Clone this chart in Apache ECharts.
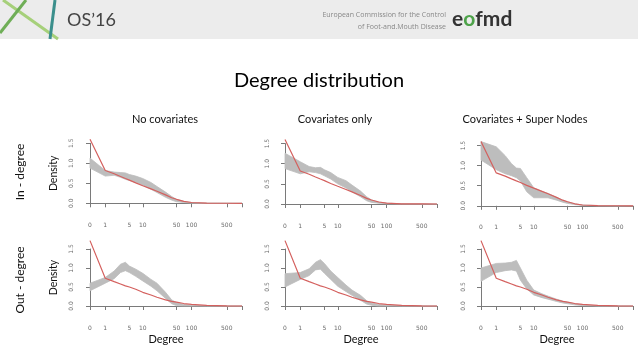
<!DOCTYPE html>
<html><head><meta charset="utf-8">
<script src="https://cdn.jsdelivr.net/npm/echarts@6/dist/echarts.min.js"></script>
<style>html,body{margin:0;padding:0;background:#fff}#c{width:638px;height:359px}</style>
</head><body><div id="c"></div>
<script>
// ---- data ----
const degrees = [0,1,2,3,4,5,7,10,15,20,30,40,50,70,100,200,500,1000];
const tickDegrees = [0,1,5,10,50,100,500,1000];
const labelDegrees = [0,1,5,10,50,100,500];
const colTitles = ['No covariates','Covariates only','Covariates + Super Nodes'];
const rowTitles = ['In - degree','Out - degree'];

const observedIn  = [1.60,0.82,0.74,0.67,0.62,0.58,0.51,0.44,0.36,0.30,0.21,0.14,0.10,0.05,0.02,0.005,0.001,0];
const observedOut = [1.72,0.73,0.64,0.58,0.53,0.50,0.44,0.36,0.29,0.23,0.16,0.12,0.10,0.065,0.045,0.015,0.003,0];

const inNoCovLow   = [0.88,0.68,0.70,0.65,0.60,0.57,0.52,0.45,0.35,0.27,0.15,0.08,0.04,0.02,0.005,0,0,0];
const inNoCovHigh  = [1.13,0.82,0.78,0.77,0.76,0.72,0.68,0.62,0.52,0.42,0.28,0.17,0.10,0.05,0.02,0.004,0.001,0];
const inCovLow     = [0.88,0.75,0.80,0.78,0.75,0.70,0.62,0.50,0.40,0.30,0.18,0.08,0.04,0.02,0.005,0,0,0];
const inCovHigh    = [1.26,1.05,0.93,0.90,0.91,0.85,0.78,0.66,0.58,0.47,0.32,0.18,0.10,0.05,0.02,0.004,0.001,0];
const inSuperLow   = [1.14,0.90,0.80,0.75,0.70,0.62,0.35,0.20,0.20,0.20,0.14,0.09,0.06,0.03,0.01,0.002,0,0];
const inSuperHigh  = [1.60,1.47,1.25,1.05,0.94,0.93,0.70,0.45,0.36,0.31,0.21,0.14,0.10,0.05,0.02,0.004,0.001,0];
const outNoCovLow  = [0.40,0.60,0.72,0.88,0.93,0.88,0.78,0.66,0.52,0.40,0.20,0.06,0.01,0,0,0,0,0];
const outNoCovHigh = [0.60,0.75,0.92,1.10,1.15,1.05,0.97,0.86,0.70,0.60,0.36,0.16,0.09,0.04,0.02,0.005,0.001,0];
const outCovLow    = [0.50,0.70,0.80,0.95,0.97,0.86,0.70,0.52,0.38,0.28,0.15,0.05,0.02,0,0,0,0,0];
const outCovHigh   = [0.85,0.88,0.98,1.15,1.22,1.12,0.92,0.75,0.55,0.42,0.28,0.14,0.08,0.04,0.02,0.005,0.001,0];
const outSuperLow  = [0.65,0.88,0.93,0.95,0.92,0.68,0.45,0.29,0.22,0.18,0.12,0.08,0.06,0.03,0.01,0.002,0,0];
const outSuperHigh = [1.00,1.12,1.13,1.15,1.20,1.00,0.68,0.42,0.32,0.26,0.18,0.13,0.10,0.06,0.03,0.006,0.001,0];

// ---- layout ----
const FONT = 'Lato';
const toX = d => Math.log10(d + 1);
const panels = [
  {low: inNoCovLow,  high: inNoCovHigh,  obs: observedIn,  row:0, col:0, left:90,  top:143.3, h:60,   yOff:7},
  {low: inCovLow,    high: inCovHigh,    obs: observedIn,  row:0, col:1, left:285, top:143.6, h:60.4, yOff:6},
  {low: inSuperLow,  high: inSuperHigh,  obs: observedIn,  row:0, col:2, left:481, top:145.6, h:60.2, yOff:6},
  {low: outNoCovLow, high: outNoCovHigh, obs: observedOut, row:1, col:0, left:90,  top:249,   h:57,   yOff:7},
  {low: outCovLow,   high: outCovHigh,   obs: observedOut, row:1, col:1, left:285, top:249,   h:57,   yOff:6},
  {low: outSuperLow, high: outSuperHigh, obs: observedOut, row:1, col:2, left:481, top:249,   h:57,   yOff:6}
];
const axisCol = '#7a7a7a';
const labCol = '#6a6a6a';
const bandCol = '#bdbdbd';

const grid = [], xAxis = [], yAxis = [], series = [];
panels.forEach((p, i) => {
  grid.push({left: p.left, top: p.top, width: 152, height: p.h});
  xAxis.push({
    gridIndex: i, type: 'value', min: 0, max: toX(1000), offset: p.row === 0 ? 4 : 3,
    axisLine: {show: true, lineStyle: {color: axisCol, width: 1}},
    axisTick: {show: true, customValues: tickDegrees.map(toX), length: 4, lineStyle: {color: axisCol}},
    axisLabel: {show: true, customValues: labelDegrees.map(toX), fontSize: 6, color: labCol,
      margin: p.row === 0 ? 15 : 16, fontFamily: 'DejaVu Sans',
      formatter: v => String(Math.round(Math.pow(10, v) - 1))},
    splitLine: {show: false},
    name: p.row === 1 ? 'Degree' : '', nameLocation: 'middle', nameGap: 25,
    nameTextStyle: {fontFamily: FONT, fontSize: 11, color: '#111'}
  });
  yAxis.push({
    gridIndex: i, type: 'value', min: 0, max: 1.5, interval: 0.5, offset: p.yOff,
    axisLine: {show: true, lineStyle: {color: axisCol, width: 1}},
    axisTick: {show: true, length: 4, lineStyle: {color: axisCol}},
    axisLabel: {rotate: 90, fontSize: 6, color: labCol, margin: 9, fontFamily: 'DejaVu Sans',
      formatter: v => v.toFixed(1)},
    splitLine: {show: false},
    name: p.col === 0 ? 'Density' : '', nameLocation: 'middle', nameGap: 24, nameRotate: 90,
    nameTextStyle: {fontFamily: FONT, fontSize: 10.5, color: '#111'}
  });
  // simulated envelope as a polygon through the axis scales
  series.push({
    type: 'custom', xAxisIndex: i, yAxisIndex: i, silent: true, clip: false, z: 1,
    data: degrees.map((d, k) => [toX(d), p.low[k], p.high[k]]),
    encode: {x: 0, y: [1, 2]},
    renderItem: (params, api) => {
      if (params.dataIndex !== 0) return null;
      const pts = [];
      degrees.forEach((d, k) => pts.push(api.coord([toX(d), p.high[k]])));
      for (let k = degrees.length - 1; k >= 0; k--) pts.push(api.coord([toX(degrees[k]), p.low[k]]));
      return {type: 'polygon', shape: {points: pts},
        style: {fill: bandCol, stroke: bandCol, lineWidth: 0.8}};
    }
  });
  series.push({
    type: 'line', xAxisIndex: i, yAxisIndex: i, symbol: 'none', silent: true, clip: false,
    data: degrees.map((d, k) => [toX(d), p.obs[k]]),
    lineStyle: {color: '#d4605e', width: 1.2}, z: 3
  });
});

const colCenters = [160, 330, 520];
const title = [{text: 'Degree distribution', left: 'center', top: 66,
  textStyle: {fontFamily: FONT, fontSize: 20, fontWeight: 'normal', color: '#000'}}];
colTitles.forEach((t, i) => title.push({text: t, left: colCenters[i], top: 109, textAlign: 'center',
  textStyle: {fontFamily: FONT, fontSize: 11, fontWeight: 'normal', color: '#111'}}));

const rowCenters = [172, 280];
const graphic = [
  {type: 'rect', shape: {x: 0, y: 0, width: 638, height: 39}, style: {fill: '#ececec'}, z: 0},
  {type: 'line', shape: {x1: 3, y1: 0, x2: 58, y2: 39}, style: {stroke: '#a6d07a', lineWidth: 3}},
  {type: 'line', shape: {x1: 0, y1: 33, x2: 26, y2: 0}, style: {stroke: '#6fae57', lineWidth: 3}},
  {type: 'line', shape: {x1: 55, y1: 0, x2: 50, y2: 39}, style: {stroke: '#3b8f8c', lineWidth: 3}},
  {type: 'text', x: 67, y: 20, style: {text: "OS\u201916", font: '18px Lato', fill: '#444', textVerticalAlign: 'middle'}},
  {type: 'text', x: 446, y: 15, style: {text: 'European Commission for the Control', font: '7px "Open Sans"', fill: '#888', textAlign: 'right', textVerticalAlign: 'middle'}},
  {type: 'text', x: 446, y: 27, style: {text: 'of Foot-and.Mouth Disease', font: '7px "Open Sans"', fill: '#888', textAlign: 'right', textVerticalAlign: 'middle'}},
  {type: 'text', x: 452, y: 19, style: {text: '{a|e}{b|o}{a|fmd}', textVerticalAlign: 'middle',
    rich: {a: {font: 'bold 21px Lato', fill: '#333'}, b: {font: 'bold 21px Lato', fill: '#4ea34a'}}}}
];
rowTitles.forEach((t, i) => graphic.push({type: 'text', x: 20, y: rowCenters[i], rotation: Math.PI / 2,
  style: {text: t, font: '12px Lato', fill: '#111', textAlign: 'center', textVerticalAlign: 'middle'}}));

const chart = echarts.init(document.getElementById('c'), null, {renderer: 'canvas'});
chart.setOption({animation: false, backgroundColor: '#fff', title, grid, xAxis, yAxis, series, graphic});
</script></body></html>
